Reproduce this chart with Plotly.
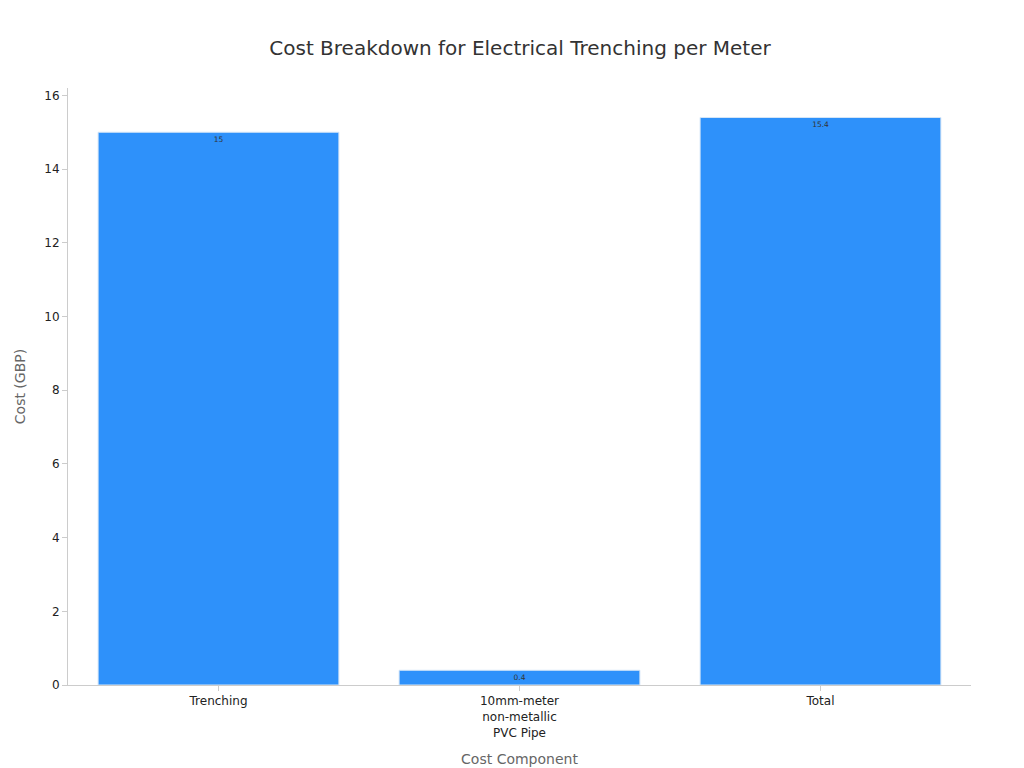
import plotly.graph_objects as go

categories = ["Trenching", "10mm-meter<br>non-metallic<br>PVC Pipe", "Total"]
costs = [15, 0.4, 15.4]
labels = ["15", "0.4", "15.4"]

fig = go.Figure()
fig.add_trace(go.Bar(
    x=categories,
    y=costs,
    text=labels,
    textposition="inside",
    insidetextanchor="end",
    textfont=dict(color="#333333", size=12),
    marker=dict(color="#2E91FA", line=dict(color="#D6E6F7", width=1)),
    width=0.8,
))

fig.update_layout(
    title=dict(text="Cost Breakdown for Electrical Trenching per Meter",
               x=0.5, y=0.957, font=dict(size=20, color="#333333")),
    font=dict(family="DejaVu Sans, sans-serif", size=12, color="#222222"),
    width=1024, height=768,
    plot_bgcolor="white", paper_bgcolor="white",
    margin=dict(l=60, r=61, t=80, b=91),
    showlegend=False,
    uniformtext=dict(minsize=6, mode="show"),
    xaxis=dict(title=dict(text="Cost Component", font=dict(size=14, color="#666666")),
               showline=True, linecolor="#CCCCCC", ticks="outside",
               tickcolor="#CCCCCC", ticklen=5),
    yaxis=dict(title=dict(text="Cost (GBP)", font=dict(size=14, color="#666666")),
               range=[0, 16.2], dtick=2, showgrid=False, zeroline=False,
               showline=True, linecolor="#CCCCCC", ticks="outside",
               tickcolor="#CCCCCC", ticklen=5),
)

fig.write_html("out.html")
